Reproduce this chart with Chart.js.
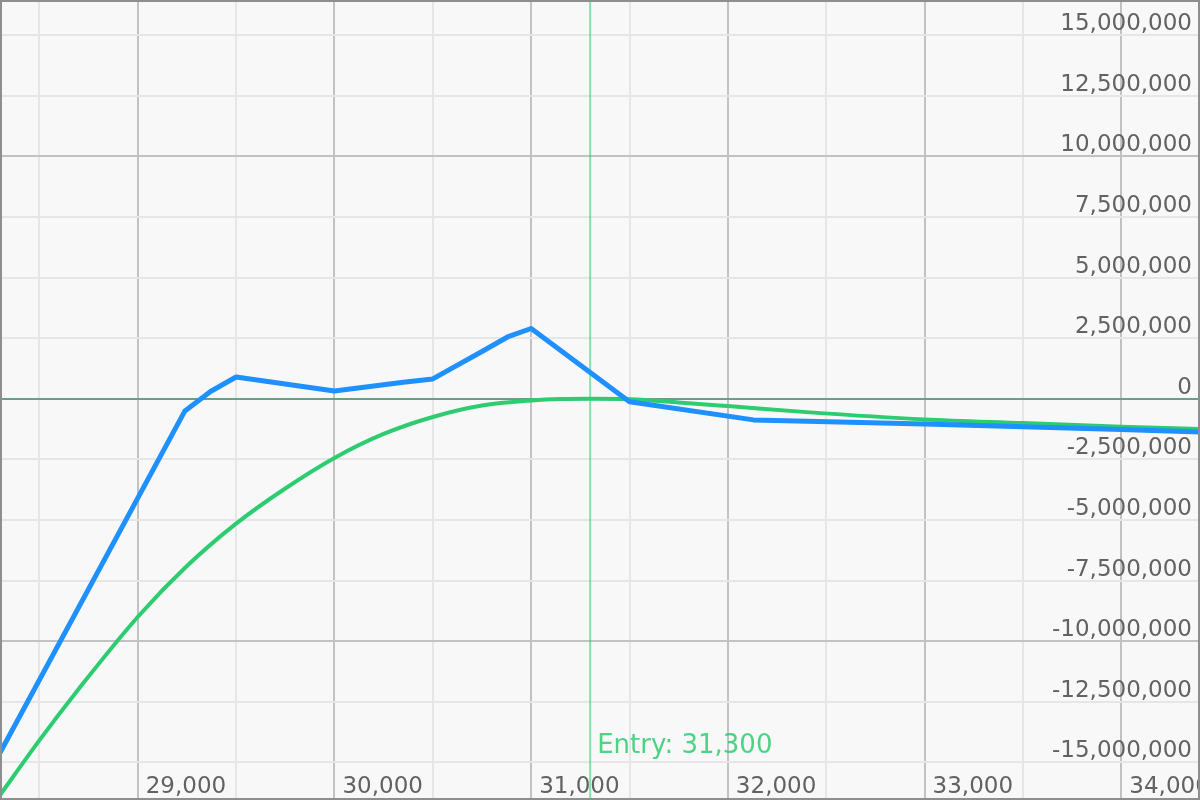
<!DOCTYPE html>
<html>
<head>
<meta charset="utf-8">
<script src="https://cdn.jsdelivr.net/npm/chart.js@4/dist/chart.umd.min.js"></script>
<style>
html,body{margin:0;padding:0;background:#f8f8f8;}
#wrap{width:1200px;height:800px;position:relative;}
canvas{background:#f8f8f8;}
</style>
</head>
<body>
<div id="wrap"><canvas id="chart"></canvas></div>
<script>
// price axis / payoff values
const bluePrices = [28300, 29240, 29370, 29500, 30000, 30350, 30500, 30750, 30880, 31000, 31500, 32130, 33000, 34000, 34400];
const blueValues = [-14600000, -500000, 300000, 900000, 320000, 680000, 820000, 1950000, 2550000, 2900000, -120000, -870000, -1040000, -1270000, -1370000];

const greenPrices = [28300, 28500, 28700, 29000, 29250, 29500, 29750, 30000, 30250, 30500, 30750, 31000, 31150, 31300, 31500, 31750, 32000, 32400, 33000, 33500, 34000, 34400];
const greenValues = [-16350000, -14090000, -11970000, -9000000, -6900000, -5150000, -3700000, -2440000, -1450000, -750000, -280000, -70000, -10000, 0, -20000, -150000, -300000, -550000, -850000, -1000000, -1150000, -1250000];

const xTicks = [28500, 29000, 29500, 30000, 30500, 31000, 31500, 32000, 32500, 33000, 33500, 34000];
const yTicks = [-15000000, -12500000, -10000000, -7500000, -5000000, -2500000, 0, 2500000, 5000000, 7500000, 10000000, 12500000, 15000000];

const entryPrice = 31300;
const xRange = [28300, 34400];
const yRange = [-16550000, 16450000];

const fmt = v => v.toLocaleString('en-US');
const tickFont = '23px "DejaVu Sans"';

// entry line under the data
const entryLine = {
id:'entryLine',
beforeDatasetsDraw(c){
const x = c.scales.x.getPixelForValue(entryPrice);
const a = c.chartArea;
const ctx = c.ctx;
ctx.save();
ctx.strokeStyle = 'rgba(46,204,113,0.55)';
ctx.lineWidth = 2;
ctx.beginPath();
ctx.moveTo(x, a.top);
ctx.lineTo(x, a.bottom);
ctx.stroke();
ctx.restore();
}
};

// tick labels inside the plot, frame and entry label
const overlay = {
id:'overlay',
afterDraw(c){
const ctx = c.ctx, a = c.chartArea, xs = c.scales.x, ys = c.scales.y;
ctx.save();
ctx.font = tickFont;
ctx.fillStyle = '#626262';
ctx.textAlign = 'left';
ctx.textBaseline = 'alphabetic';
xs.ticks.forEach(t=>{
if(t.value % 1000 !== 0) return;
ctx.fillText(fmt(t.value), xs.getPixelForValue(t.value) + 8, a.bottom - 7);
});
ctx.textAlign = 'right';
ys.ticks.forEach(t=>{
ctx.fillText(fmt(t.value), a.right - 8, ys.getPixelForValue(t.value) - 5);
});
ctx.font = '26px "DejaVu Sans"';
ctx.textAlign = 'left';
ctx.fillStyle = 'rgba(46,204,113,0.85)';
ctx.fillText('Entry: ' + fmt(entryPrice), xs.getPixelForValue(entryPrice) + 7, a.bottom - 47);
ctx.strokeStyle = '#8e8e8e';
ctx.lineWidth = 2;
ctx.strokeRect(1, 1, c.width - 2, c.height - 2);
ctx.restore();
}
};

chart = new Chart(document.getElementById('chart'), {
type:'line',
data:{
datasets:[
{
data: bluePrices.map((p,i)=>({x:p, y:blueValues[i]})),
borderColor:'#1e90ff',
borderWidth:5,
pointRadius:0,
tension:0,
borderJoinStyle:'round'
},
{
data: greenPrices.map((p,i)=>({x:p, y:greenValues[i]})),
borderColor:'#2ecc71',
borderWidth:4,
pointRadius:0,
cubicInterpolationMode:'monotone'
}
]
},
options:{
responsive:true,
maintainAspectRatio:false,
animation:false,
layout:{padding:0},
plugins:{legend:{display:false}, tooltip:{enabled:false}},
scales:{
x:{
type:'linear',
min:xRange[0], max:xRange[1],
border:{display:false},
ticks:{display:false},
afterBuildTicks:s=>{ s.ticks = xTicks.map(v=>({value:v})); },
grid:{drawTicks:false, lineWidth:2, color:c=>c.tick && c.tick.value % 1000 === 0 ? '#c2c2c2' : '#e6e6e6'}
},
y:{
position:'right',
min:yRange[0], max:yRange[1],
border:{display:false},
ticks:{display:false},
afterBuildTicks:s=>{ s.ticks = yTicks.map(v=>({value:v})); },
grid:{drawTicks:false, lineWidth:2, color:c=>{
if(!c.tick) return '#e6e6e6';
if(c.tick.value === 0) return '#66a085';
return c.tick.value % 10000000 === 0 ? '#c2c2c2' : '#e6e6e6';
}}
}
}
},
plugins:[entryLine, overlay]
});
</script>
</body>
</html>
